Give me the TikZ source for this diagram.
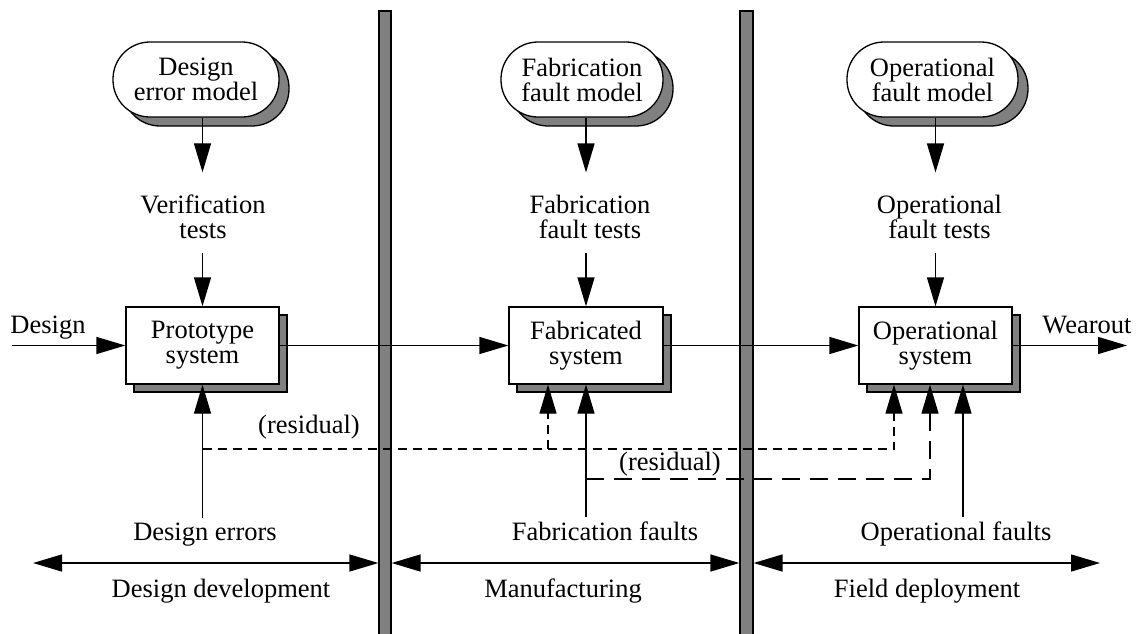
\documentclass[tikz,border=0pt]{standalone}
\usepackage{fontspec}
\setmainfont{Liberation Serif}
\usetikzlibrary{arrows.meta,shadows,calc}
\definecolor{shadegray}{RGB}{128,128,128}
\begin{document}
\begin{tikzpicture}[x=1pt,y=-1pt,
  every node/.style={font=\fontsize{26.5}{25}\selectfont, inner sep=0pt},
  lbl/.style={align=center},
  sysbox/.style={draw, line width=1.3pt, fill=white, minimum width=153pt,
    minimum height=77pt, align=center,
    copy shadow={shadow xshift=8pt, shadow yshift=-8pt, fill=shadegray,
      draw=black, line width=1.3pt}},
  model/.style={draw, line width=1.3pt, fill=white, rounded corners=37pt,
    minimum height=75pt, align=center,
    copy shadow={shadow xshift=10pt, shadow yshift=-9pt, fill=shadegray,
      draw=black, line width=1.3pt}},
  divider/.style={draw, line width=1.2pt, fill=shadegray, minimum width=12pt,
    minimum height=640pt},
  conn/.style={line width=1.3pt, -{Triangle[length=29pt,width=17pt]}},
  span/.style={line width=1.3pt,
    {Triangle[length=29pt,width=17pt]}-{Triangle[length=29pt,width=17pt]}},
  shortdash/.style={dash pattern=on 9pt off 6pt},
  longdash/.style={dash pattern=on 18pt off 10pt},
]
\useasboundingbox (0,0) rectangle (1141,633);

% phase dividers
\node[divider] (bar1) at (385,331) {};
\node[divider, minimum width=13pt] (bar2) at (746.5,331) {};

% fault models
\node[model, minimum width=166pt] (dem) at (196,79.5) {Design\\error model};
\node[model, minimum width=162pt] (ffm) at (582,79.5) {Fabrication\\fault model};
\node[model, minimum width=171pt] (ofm) at (932.5,79.5) {Operational\\fault model};

% test sets
\node[lbl] (vt) at (203,216.5) {Verification\\tests};
\node[lbl] (ft) at (590,216.5) {Fabrication\\fault tests};
\node[lbl] (ot) at (939.5,216.5) {Operational\\fault tests};

% systems
\node[sysbox] (proto) at (202.5,345.5) {Prototype\\system};
\node[sysbox, minimum width=154pt] (fab) at (586,345.5) {Fabricated\\system};
\node[sysbox] (op) at (935.5,345.5) {Operational\\system};

% labels
\node[anchor=base] (din) at (48,333) {Design};
\node[anchor=base] (wo) at (1087,333) {Wearout};
\node[anchor=base] (res1) at (309,433) {(residual)};
\node[anchor=base] (res2) at (670,470) {(residual)};
\node[anchor=base] (derr) at (205,540) {Design errors};
\node[anchor=base] (ferr) at (605,540) {Fabrication faults};
\node[anchor=base] (oerr) at (956,540) {Operational faults};
\node[anchor=base] (ph1) at (221,597) {Design development};
\node[anchor=base] (ph2) at (563,597) {Manufacturing};
\node[anchor=base] (ph3) at (927,597) {Field deployment};

% connector end points
\coordinate (designsrc) at (12,345.5);
\coordinate (wearend) at (1127,345.5);
\coordinate (fabA) at ($(fab.south)+(-38,0)$);
\coordinate (opA) at ($(op.south)+(-41.5,0)$);
\coordinate (opB) at ($(op.south)+(-5.5,0)$);
\coordinate (opC) at ($(op.south)+(27.5,0)$);
\coordinate (r1) at (202.5,449);
\coordinate (r2) at (586,479);
\coordinate (spanL) at (33,563);
\coordinate (spanR) at (1100,563);

% model -> tests -> system
\draw[conn, shorten >=22pt] (dem.south -| proto.north) -- (vt.north -| proto.north);
\draw[conn, shorten <=14pt] (vt.south -| proto.north) -- (proto.north);
\draw[conn, shorten >=22pt] (ffm.south -| fab.north) -- (ft.north -| fab.north);
\draw[conn, shorten <=14pt] (ft.south -| fab.north) -- (fab.north);
\draw[conn, shorten >=22pt] (ofm.south -| op.north) -- (ot.north -| op.north);
\draw[conn, shorten <=14pt] (ot.south -| op.north) -- (op.north);

% main flow
\draw[conn] (designsrc) -- (proto.west);
\draw[conn] (proto.east) -- (fab.west);
\draw[conn] (fab.east) -- (op.west);
\draw[conn] (op.east) -- (wearend);

% faults entering each stage
\draw[conn, shorten <=4pt] (derr.north -| proto.south) -- (proto.south);
\draw[conn, shorten <=4pt] (ferr.north -| fab.south) -- (fab.south);
\draw[conn, shorten <=4pt] (oerr.north -| opC) -- (opC);

% residual faults
\draw[conn, shortdash] (r1) -- (r1 -| opA) -- (opA);
\draw[conn, shortdash] (r1 -| fabA) -- (fabA);
\draw[conn, longdash] (r2) -- (r2 -| opB) -- (opB);

% phase spans
\draw[span] (spanL) -- (spanL -| bar1.west);
\draw[span] (spanL -| bar1.east) -- (spanL -| bar2.west);
\draw[span] (spanL -| bar2.east) -- (spanR);
\end{tikzpicture}
\end{document}
